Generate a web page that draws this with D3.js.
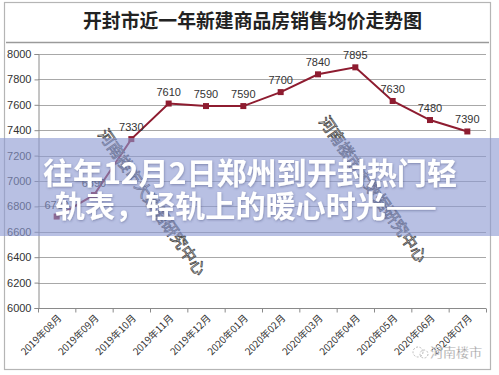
<!DOCTYPE html>
<html>
<head>
<meta charset="utf-8">
<script src="https://cdn.jsdelivr.net/npm/d3@7/dist/d3.min.js"></script>
<style>
  html, body { margin: 0; padding: 0; background: #fff; }
  svg { display: block; }
</style>
</head>
<body>
<svg id="chart" width="499" height="375"></svg>
<script>
// Monthly average price of new commercial housing in Kaifeng (yuan / m²)
const months = ["2019年08月", "2019年09月", "2019年10月", "2019年11月", "2019年12月", "2020年01月",
                "2020年02月", "2020年03月", "2020年04月", "2020年05月", "2020年06月", "2020年07月"];
const prices = [6720, 6890, 7330, 7610, 7590, 7590, 7700, 7840, 7895, 7630, 7480, 7390];
const yTicks = [6000, 6200, 6400, 6600, 6800, 7000, 7200, 7400, 7600, 7800, 8000];
const chartTitle = "开封市近一年新建商品房销售均价走势图";
const headline = ["往年12月2日郑州到开封热门轻", "轨表，轻轨上的暖心时光——"];
const stampText = "河南楼市大数据研究中心";
const sourceMark = "河南楼市";

const svg = d3.select("#chart");
const cjk = "'Noto Sans CJK SC', 'Noto Sans', sans-serif";
const num = "'Liberation Sans', Arial, sans-serif";

// outer frame of the chart card
svg.append("rect").attr("x", 4.5).attr("y", 2.5).attr("width", 486).attr("height", 367)
  .attr("fill", "#fff").attr("stroke", "#b5b5b5").attr("stroke-width", 1.2);

// title and divider
svg.append("text").attr("x", 83).attr("y", 28)
  .attr("textLength", 339).attr("lengthAdjust", "spacingAndGlyphs")
  .attr("font-family", cjk).attr("font-size", 19).attr("font-weight", 700)
  .attr("fill", "#222").text(chartTitle);
svg.append("line").attr("x1", 6).attr("x2", 489).attr("y1", 42.5).attr("y2", 42.5)
  .attr("stroke", "#9a9a9a").attr("stroke-width", 1.5);

// scales
const x = d3.scaleBand().domain(months).range([38, 486]);
const y = d3.scaleLinear().domain([6000, 8000]).range([308, 54]);
const cx = d => x(d) + x.bandwidth() / 2;

// horizontal gridlines
svg.append("g").selectAll("line").data(yTicks.slice(1)).join("line")
  .attr("x1", 38).attr("x2", 486)
  .attr("y1", d => Math.round(y(d)) + 0.5).attr("y2", d => Math.round(y(d)) + 0.5)
  .attr("stroke", "#a8a8a8").attr("stroke-width", 1);

// y axis
const yAxis = svg.append("g").attr("transform", "translate(38.5,0)")
  .call(d3.axisLeft(y).tickValues(yTicks).tickSize(4).tickPadding(3).tickFormat(d3.format("d")));
yAxis.select(".domain").attr("stroke", "#8a8a8a");
yAxis.selectAll(".tick line").attr("stroke", "#8a8a8a");
yAxis.selectAll(".tick text").attr("font-family", num).attr("font-size", 11).attr("fill", "#333");

// x axis with ticks on category boundaries
const xAxisG = svg.append("g").attr("transform", "translate(0,308.5)");
xAxisG.append("line").attr("x1", 38).attr("x2", 486).attr("stroke", "#8a8a8a");
xAxisG.selectAll("line.tk").data(months.concat(["_end"])).join("line").attr("class", "tk")
  .attr("x1", (d, i) => 38.5 + i * x.bandwidth()).attr("x2", (d, i) => 38.5 + i * x.bandwidth())
  .attr("y1", 0).attr("y2", 4).attr("stroke", "#8a8a8a");
xAxisG.selectAll("text").data(months).join("text")
  .attr("transform", d => `translate(${cx(d) + 3},8) rotate(-45)`)
  .attr("text-anchor", "end").attr("dy", "0.35em")
  .attr("font-family", cjk).attr("font-size", 9.8).attr("fill", "#333").text(d => d);

// price line with square markers
const line = d3.line().x((d, i) => cx(months[i])).y(d => y(d));
svg.append("path").datum(prices).attr("d", line)
  .attr("fill", "none").attr("stroke", "#8e1c30").attr("stroke-width", 2);
svg.append("g").selectAll("rect").data(prices).join("rect")
  .attr("x", (d, i) => cx(months[i]) - 3).attr("y", d => y(d) - 3)
  .attr("width", 6).attr("height", 6).attr("fill", "#8e1c30");

// value labels
svg.append("g").selectAll("text").data(prices).join("text")
  .attr("x", (d, i) => cx(months[i])).attr("y", d => y(d) - 8)
  .attr("text-anchor", "middle").attr("font-family", num).attr("font-size", 11)
  .attr("fill", "#333").text(d => d);

// diagonal institutional stamps (outlined lettering)
[[102, 131], [323, 118]].forEach(([sx, sy]) => {
  svg.append("text").attr("transform", `translate(${sx},${sy}) rotate(55)`)
    .attr("textLength", 174).attr("lengthAdjust", "spacingAndGlyphs")
    .attr("dy", "0.35em").attr("font-family", cjk).attr("font-size", 16)
    .attr("fill", "#ffffff").attr("stroke", "#4a4a4a").attr("stroke-width", 0.8)
    .text(stampText);
});

// translucent headline band
svg.append("rect").attr("x", 0).attr("y", 138).attr("width", 499).attr("height", 98)
  .attr("fill", "#8c9ad2").attr("opacity", 0.62);

const shadow = svg.append("defs").append("filter").attr("id", "shade")
  .attr("x", "-5%").attr("y", "-20%").attr("width", "110%").attr("height", "140%");
shadow.append("feDropShadow").attr("dx", 0.5).attr("dy", 1).attr("stdDeviation", 1)
  .attr("flood-color", "#3a4070").attr("flood-opacity", 0.45);

svg.append("text").attr("x", 43).attr("y", 184)
  .attr("textLength", 414).attr("lengthAdjust", "spacingAndGlyphs")
  .attr("font-family", cjk).attr("font-size", 30).attr("font-weight", 700)
  .attr("fill", "#fff").attr("filter", "url(#shade)").text(headline[0]);
svg.append("text").attr("x", 55).attr("y", 217)
  .attr("textLength", 382).attr("lengthAdjust", "spacingAndGlyphs")
  .attr("font-family", cjk).attr("font-size", 30).attr("font-weight", 700)
  .attr("fill", "#fff").attr("filter", "url(#shade)").text(headline[1]);

// source mark in the corner
const mark = svg.append("g").attr("transform", "translate(418,352)");
mark.append("circle").attr("cx", 0).attr("cy", 0).attr("r", 5)
  .attr("fill", "none").attr("stroke", "#bbb").attr("stroke-width", 1).attr("stroke-dasharray", "2,1.5");
mark.append("circle").attr("cx", 6).attr("cy", 2).attr("r", 4)
  .attr("fill", "none").attr("stroke", "#bbb").attr("stroke-width", 1).attr("stroke-dasharray", "2,1.5");
mark.append("text").attr("x", 12).attr("y", 5).attr("font-family", cjk).attr("font-size", 13)
  .attr("fill", "#8a8a8a").attr("stroke", "#fff").attr("stroke-width", 0.3).text(sourceMark);
</script>
</body>
</html>
